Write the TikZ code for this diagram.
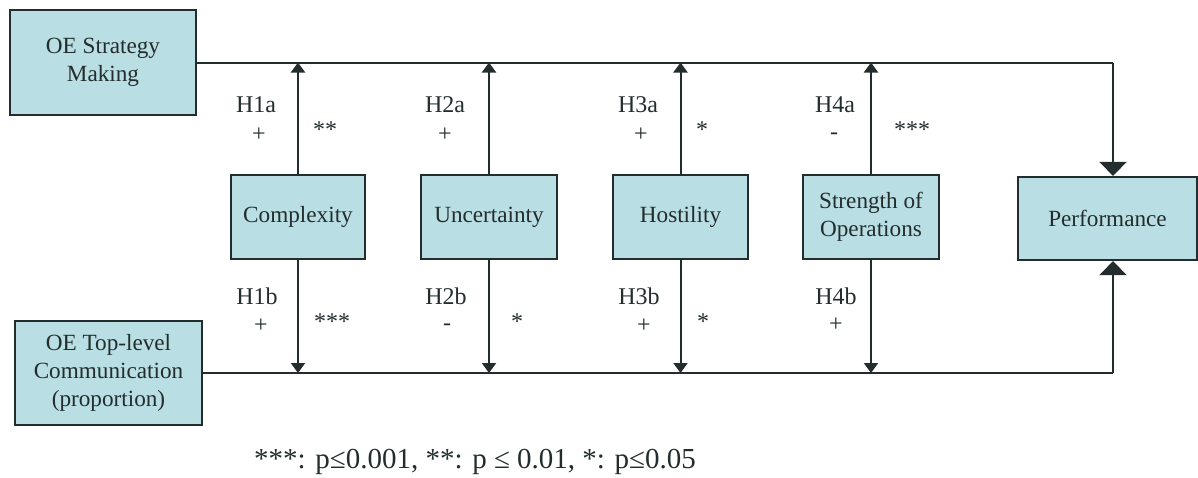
\documentclass[tikz,border=0pt]{standalone}
\usepackage{fontspec}
\setmainfont{Liberation Serif}
\usetikzlibrary{arrows.meta}
\definecolor{boxfill}{RGB}{185,222,227}
\definecolor{ink}{RGB}{35,45,45}
\tikzset{
  varbox/.style={draw=ink, line width=1.1pt, fill=boxfill, text=ink, align=center,
    font=\fontsize{11.6}{14}\selectfont, inner sep=0pt},
  lbl/.style={text=ink, font=\fontsize{12}{14}\selectfont, inner sep=0pt},
  conn/.style={draw=ink, line width=1pt},
  smallarrow/.style={conn, -{Triangle[width=7pt,length=5pt]}},
  bigarrow/.style={conn, -{Triangle[width=13.5pt,length=7pt]}}
}
\begin{document}
\begin{tikzpicture}[x=0.5pt,y=-0.5pt]
\useasboundingbox (0,0) rectangle (1198,477);
% boxes
\node[varbox, minimum width=93pt, minimum height=52.5pt] (sm) at (103,62.5) {OE Strategy\\Making};
\node[varbox, minimum width=93.5pt, minimum height=52pt] (tc) at (108.5,373) {OE Top-level\\Communication\\(proportion)};
\node[varbox, minimum width=67pt, minimum height=42pt] (cx) at (298,217) {Complexity};
\node[varbox, minimum width=68pt, minimum height=42pt] (un) at (489,217) {Uncertainty};
\node[varbox, minimum width=67.5pt, minimum height=42pt] (ho) at (680.5,217) {Hostility};
\node[varbox, minimum width=68pt, minimum height=42pt] (so) at (871,217) {Strength of\\Operations};
\node[varbox, minimum width=89.5pt, minimum height=41.5pt] (pf) at (1107.5,218.5) {Performance};
% corner coordinates
\coordinate (tr) at (1113,62.5);
\coordinate (br) at (1113,373);
% main lines
\draw[conn] (sm.east) -- (tr);
\draw[bigarrow] (tr) -- (tr |- pf.north);
\draw[conn] (tc.east) -- (br);
\draw[bigarrow] (br) -- (br |- pf.south);
% moderator arrows
\foreach \n in {cx,un,ho,so}{
  \draw[smallarrow] (\n.north) -- (\n.north |- sm.east);
  \draw[smallarrow] (\n.south) -- (\n.south |- tc.east);
}
% labels top
\node[lbl] (h1a) at (256,105) {H1a};
\node[lbl] (p1a) at (259,135) {+};
\node[lbl] (s1a) at (325,130) {**};
\node[lbl] (h2a) at (445,105) {H2a};
\node[lbl] (p2a) at (445,135) {+};
\node[lbl] (h3a) at (638,105) {H3a};
\node[lbl] (p3a) at (641,135) {+};
\node[lbl] (s3a) at (702,130) {*};
\node[lbl] (h4a) at (835,105) {H4a};
\node[lbl] (p4a) at (834,136) {-};
\node[lbl] (s4a) at (912,130) {***};
% labels bottom
\node[lbl] (h1b) at (257,296) {H1b};
\node[lbl] (p1b) at (261,326) {+};
\node[lbl] (s1b) at (332,322) {***};
\node[lbl] (h2b) at (446,296) {H2b};
\node[lbl] (p2b) at (447,327) {-};
\node[lbl] (s2b) at (517,322) {*};
\node[lbl] (h3b) at (639,296) {H3b};
\node[lbl] (p3b) at (644,326) {+};
\node[lbl] (s3b) at (703,322) {*};
\node[lbl] (h4b) at (836,296) {H4b};
\node[lbl] (p4b) at (836,325) {+};
% footnote
\node[lbl, font=\fontsize{14.5}{17}\selectfont] (fn) at (475,462) {***: p≤0.001, **: p ≤ 0.01, *: p≤0.05};
\end{tikzpicture}
\end{document}
